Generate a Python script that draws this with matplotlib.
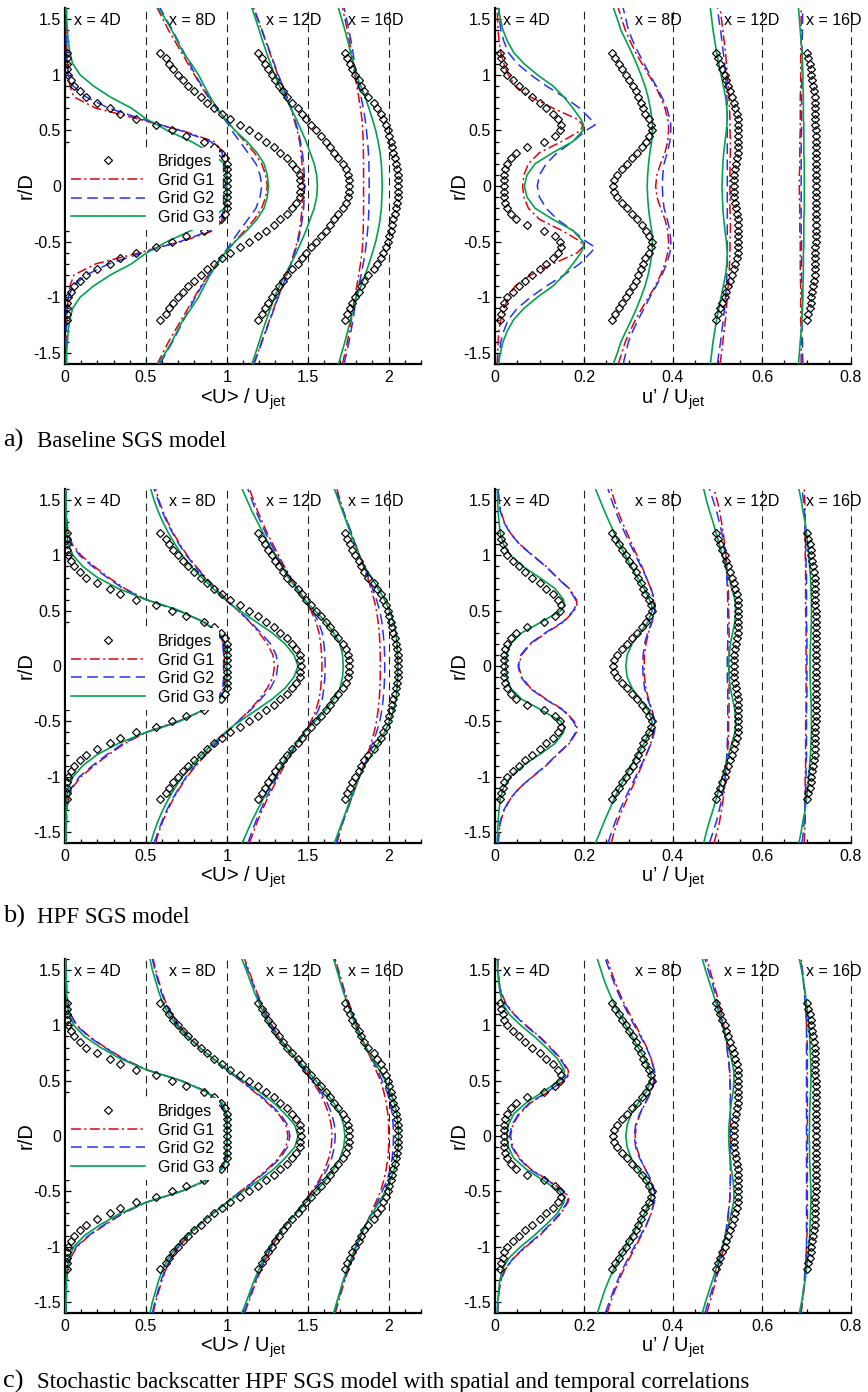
import numpy as np
import matplotlib
matplotlib.use("Agg")
import matplotlib.pyplot as plt
from matplotlib.ticker import MultipleLocator, FixedLocator, FixedFormatter

# ---------------- data ----------------
# radial stations (r/D >= 0) at which the LES profiles were read; profiles are mirrored about r = 0
R_SIM = [0, 0.1, 0.2, 0.3, 0.4, 0.5, 0.55, 0.6, 0.7, 0.8, 0.9, 1.0, 1.1, 1.2, 1.3, 1.4, 1.5, 1.6]
# radial stations of the Bridges measurements
R_EXP = [0, 0.05, 0.1, 0.15, 0.2, 0.25, 0.3, 0.35, 0.4, 0.45, 0.5, 0.55, 0.6,
         0.65, 0.7, 0.75, 0.8, 0.85, 0.9, 0.95, 1.0, 1.05, 1.1, 1.15, 1.2]

STATION_LABELS = ["x = 4D", "x = 8D", "x = 12D", "x = 16D"]
GRID_LABELS = ["Grid G1", "Grid G2", "Grid G3"]
EXP_LABEL = "Bridges"
CAPTION_LETTERS = ["a)", "b)", "c)"]
CAPTION_TEXTS = ["Baseline SGS model", "HPF SGS model",
                 "Stochastic backscatter HPF SGS model with spatial and temporal correlations"]

MEAN_XTICKS = [0, 0.5, 1, 1.5, 2]
MEAN_XTICKLABELS = ["0", "0.5", "1", "1.5", "2"]
RMS_XTICKS = [0, 0.2, 0.4, 0.6, 0.8]
RMS_XTICKLABELS = ["0", "0.2", "0.4", "0.6", "0.8"]
YTICKS = [-1.5, -1, -0.5, 0, 0.5, 1, 1.5]
YTICKLABELS = ["-1.5", "-1", "-0.5", "0", "0.5", "1", "1.5"]
MEAN_REFLINES = [0.5, 1.0, 1.5, 2.0]
RMS_REFLINES = [0.2, 0.4, 0.6, 0.8]

# Bridges measurements (as plotted, stations shifted along the axis)
EXP_MEAN = [
    [1.0, 1.0, 1.0, 1.0, 1.0, 0.99, 0.965, 0.92, 0.86, 0.75, 0.66, 0.56, 0.44, 0.34, 0.28, 0.2, 0.13, 0.09, 0.055, 0.035, 0.02, 0.015, 0.013, 0.01, 0.01],
    [1.46, 1.455, 1.45, 1.43, 1.405, 1.37, 1.33, 1.29, 1.24, 1.19, 1.135, 1.08, 1.02, 0.97, 0.92, 0.88, 0.84, 0.80, 0.76, 0.73, 0.70, 0.67, 0.645, 0.625, 0.59],
    [1.755, 1.753, 1.748, 1.735, 1.715, 1.69, 1.665, 1.64, 1.61, 1.58, 1.55, 1.52, 1.49, 1.465, 1.44, 1.40, 1.37, 1.345, 1.32, 1.30, 1.28, 1.255, 1.235, 1.215, 1.19],
    [2.06, 2.06, 2.055, 2.05, 2.045, 2.04, 2.03, 2.02, 2.015, 2.005, 1.995, 1.985, 1.965, 1.95, 1.93, 1.91, 1.875, 1.85, 1.83, 1.815, 1.79, 1.775, 1.76, 1.745, 1.73],
]
EXP_RMS = [
    [0.02, 0.02, 0.02, 0.023, 0.028, 0.035, 0.048, 0.072, 0.11, 0.134, 0.145, 0.148, 0.142, 0.13, 0.115, 0.102, 0.083, 0.068, 0.053, 0.04, 0.027, 0.02, 0.017, 0.014, 0.011],
    [0.265, 0.267, 0.275, 0.285, 0.297, 0.307, 0.318, 0.33, 0.34, 0.347, 0.352, 0.35, 0.345, 0.338, 0.333, 0.328, 0.322, 0.317, 0.31, 0.302, 0.295, 0.286, 0.278, 0.27, 0.263],
    [0.537, 0.537, 0.538, 0.54, 0.541, 0.543, 0.545, 0.546, 0.547, 0.547, 0.547, 0.546, 0.545, 0.543, 0.54, 0.537, 0.533, 0.528, 0.524, 0.52, 0.516, 0.511, 0.506, 0.501, 0.497],
    [0.722, 0.722, 0.722, 0.722, 0.722, 0.722, 0.721, 0.721, 0.721, 0.721, 0.721, 0.72, 0.72, 0.72, 0.72, 0.72, 0.719, 0.717, 0.715, 0.713, 0.711, 0.709, 0.707, 0.704, 0.701],
]

# ---- a) baseline SGS model ----
A_MEAN_G1 = [
    [0.995, 0.995, 0.99, 0.98, 0.92, 0.72, 0.58, 0.46, 0.19, 0.055, 0.03, 0.02, 0.015, 0.012, 0.01, 0.008, 0.007, 0.006],
    [1.25, 1.24, 1.215, 1.17, 1.11, 1.05, 1.02, 0.99, 0.935, 0.885, 0.84, 0.80, 0.76, 0.72, 0.68, 0.64, 0.605, 0.57],
    [1.47, 1.468, 1.465, 1.458, 1.45, 1.435, 1.425, 1.415, 1.395, 1.37, 1.345, 1.315, 1.29, 1.265, 1.24, 1.215, 1.19, 1.165],
    [1.845, 1.845, 1.845, 1.844, 1.843, 1.84, 1.838, 1.835, 1.826, 1.815, 1.803, 1.79, 1.78, 1.77, 1.758, 1.745, 1.73, 1.715],
]
A_MEAN_G2 = [
    [0.98, 0.98, 0.98, 0.97, 0.90, 0.71, 0.59, 0.48, 0.27, 0.13, 0.05, 0.02, 0.012, 0.01, 0.008, 0.007, 0.006, 0.005],
    [1.216, 1.205, 1.18, 1.13, 1.08, 1.03, 1.01, 0.985, 0.935, 0.89, 0.845, 0.805, 0.77, 0.735, 0.70, 0.665, 0.625, 0.588],
    [1.48, 1.478, 1.475, 1.466, 1.455, 1.44, 1.43, 1.42, 1.398, 1.372, 1.345, 1.318, 1.293, 1.268, 1.243, 1.218, 1.193, 1.168],
    [1.88, 1.879, 1.878, 1.875, 1.87, 1.863, 1.859, 1.855, 1.843, 1.83, 1.815, 1.80, 1.79, 1.78, 1.768, 1.755, 1.74, 1.725],
]
A_MEAN_G3 = [
    [1.0, 1.0, 0.985, 0.90, 0.78, 0.63, 0.57, 0.505, 0.41, 0.28, 0.175, 0.093, 0.047, 0.03, 0.02, 0.015, 0.01, 0.01],
    [1.258, 1.25, 1.23, 1.186, 1.124, 1.05, 1.02, 0.99, 0.94, 0.897, 0.86, 0.825, 0.78, 0.73, 0.695, 0.66, 0.62, 0.577],
    [1.56, 1.555, 1.54, 1.515, 1.49, 1.46, 1.445, 1.43, 1.395, 1.36, 1.325, 1.295, 1.27, 1.245, 1.222, 1.20, 1.178, 1.155],
    [1.96, 1.958, 1.955, 1.947, 1.935, 1.92, 1.91, 1.90, 1.878, 1.855, 1.828, 1.80, 1.783, 1.765, 1.748, 1.73, 1.71, 1.69],
]
A_RMS_G1 = [
    [0.062, 0.065, 0.075, 0.10, 0.15, 0.193, 0.197, 0.185, 0.13, 0.08, 0.045, 0.03, 0.02, 0.013, 0.009, 0.007, 0.006, 0.005],
    [0.361, 0.364, 0.372, 0.382, 0.388, 0.39, 0.39, 0.388, 0.382, 0.372, 0.36, 0.345, 0.33, 0.316, 0.304, 0.293, 0.285, 0.277],
    [0.528, 0.528, 0.528, 0.529, 0.529, 0.528, 0.528, 0.528, 0.527, 0.526, 0.524, 0.522, 0.52, 0.518, 0.515, 0.512, 0.509, 0.506],
    [0.684, 0.684, 0.685, 0.685, 0.685, 0.686, 0.686, 0.686, 0.686, 0.686, 0.687, 0.687, 0.687, 0.687, 0.688, 0.688, 0.688, 0.688],
]
A_RMS_G2 = [
    [0.095, 0.10, 0.115, 0.14, 0.175, 0.205, 0.225, 0.215, 0.19, 0.155, 0.115, 0.08, 0.05, 0.03, 0.02, 0.013, 0.01, 0.008],
    [0.376, 0.377, 0.38, 0.387, 0.393, 0.395, 0.395, 0.393, 0.386, 0.375, 0.362, 0.348, 0.335, 0.322, 0.31, 0.30, 0.294, 0.288],
    [0.522, 0.522, 0.522, 0.522, 0.522, 0.522, 0.522, 0.522, 0.522, 0.521, 0.52, 0.518, 0.516, 0.513, 0.51, 0.507, 0.503, 0.50],
    [0.688, 0.688, 0.688, 0.688, 0.688, 0.689, 0.689, 0.689, 0.689, 0.689, 0.689, 0.69, 0.69, 0.69, 0.69, 0.691, 0.691, 0.692],
]
A_RMS_G3 = [
    [0.066, 0.072, 0.09, 0.13, 0.175, 0.198, 0.199, 0.193, 0.175, 0.155, 0.13, 0.095, 0.065, 0.042, 0.028, 0.018, 0.012, 0.008],
    [0.342, 0.343, 0.345, 0.348, 0.352, 0.354, 0.354, 0.353, 0.349, 0.344, 0.337, 0.328, 0.318, 0.307, 0.295, 0.283, 0.275, 0.266],
    [0.51, 0.511, 0.512, 0.514, 0.517, 0.52, 0.521, 0.522, 0.521, 0.518, 0.513, 0.508, 0.503, 0.498, 0.494, 0.49, 0.487, 0.484],
    [0.695, 0.695, 0.695, 0.694, 0.694, 0.694, 0.694, 0.693, 0.693, 0.693, 0.692, 0.692, 0.691, 0.69, 0.688, 0.686, 0.684, 0.682],
]

# ---- b) HPF SGS model ----
B_MEAN_G1 = [
    [0.985, 0.985, 0.98, 0.95, 0.86, 0.70, 0.60, 0.50, 0.37, 0.27, 0.18, 0.10, 0.045, 0.02, 0.012, 0.009, 0.007, 0.006],
    [1.295, 1.285, 1.25, 1.20, 1.14, 1.07, 1.035, 1.0, 0.935, 0.87, 0.81, 0.755, 0.71, 0.67, 0.635, 0.605, 0.58, 0.56],
    [1.588, 1.586, 1.58, 1.57, 1.55, 1.52, 1.50, 1.48, 1.44, 1.395, 1.355, 1.32, 1.285, 1.25, 1.22, 1.19, 1.165, 1.14],
    [1.948, 1.948, 1.946, 1.942, 1.935, 1.925, 1.918, 1.91, 1.89, 1.87, 1.845, 1.82, 1.795, 1.77, 1.745, 1.72, 1.70, 1.68],
]
B_MEAN_G2 = [
    [0.98, 0.98, 0.975, 0.945, 0.855, 0.70, 0.60, 0.50, 0.36, 0.26, 0.17, 0.09, 0.04, 0.018, 0.011, 0.008, 0.007, 0.006],
    [1.315, 1.305, 1.27, 1.21, 1.145, 1.07, 1.035, 0.995, 0.93, 0.865, 0.805, 0.75, 0.705, 0.665, 0.63, 0.60, 0.575, 0.55],
    [1.608, 1.606, 1.60, 1.59, 1.565, 1.53, 1.505, 1.48, 1.435, 1.39, 1.345, 1.31, 1.275, 1.24, 1.21, 1.18, 1.155, 1.13],
    [1.976, 1.975, 1.972, 1.966, 1.958, 1.945, 1.935, 1.925, 1.90, 1.875, 1.85, 1.82, 1.795, 1.77, 1.745, 1.72, 1.695, 1.675],
]
B_MEAN_G3 = [
    [1.0, 1.0, 0.99, 0.955, 0.85, 0.71, 0.61, 0.50, 0.33, 0.20, 0.11, 0.05, 0.02, 0.01, 0.008, 0.007, 0.006, 0.005],
    [1.44, 1.415, 1.36, 1.28, 1.18, 1.08, 1.03, 0.99, 0.915, 0.845, 0.78, 0.725, 0.68, 0.64, 0.605, 0.575, 0.55, 0.53],
    [1.72, 1.715, 1.70, 1.66, 1.61, 1.545, 1.51, 1.48, 1.43, 1.38, 1.34, 1.30, 1.26, 1.225, 1.19, 1.155, 1.125, 1.095],
    [2.056, 2.055, 2.052, 2.045, 2.03, 2.005, 1.99, 1.975, 1.935, 1.895, 1.85, 1.82, 1.79, 1.765, 1.74, 1.715, 1.69, 1.665],
]
B_RMS_G1 = [
    [0.053, 0.06, 0.08, 0.115, 0.155, 0.178, 0.184, 0.183, 0.167, 0.14, 0.115, 0.085, 0.056, 0.035, 0.021, 0.013, 0.009, 0.007],
    [0.335, 0.336, 0.339, 0.345, 0.353, 0.358, 0.358, 0.356, 0.35, 0.34, 0.33, 0.319, 0.308, 0.297, 0.286, 0.276, 0.268, 0.261],
    [0.526, 0.526, 0.526, 0.526, 0.526, 0.525, 0.525, 0.525, 0.524, 0.522, 0.521, 0.519, 0.516, 0.513, 0.509, 0.505, 0.499, 0.492],
    [0.699, 0.699, 0.699, 0.699, 0.699, 0.698, 0.698, 0.698, 0.698, 0.698, 0.698, 0.697, 0.697, 0.697, 0.697, 0.697, 0.696, 0.695],
]
B_RMS_G2 = [
    [0.052, 0.058, 0.078, 0.113, 0.153, 0.176, 0.182, 0.181, 0.166, 0.139, 0.114, 0.084, 0.055, 0.034, 0.02, 0.012, 0.009, 0.007],
    [0.332, 0.333, 0.336, 0.343, 0.353, 0.359, 0.36, 0.358, 0.351, 0.34, 0.328, 0.316, 0.304, 0.292, 0.281, 0.271, 0.262, 0.254],
    [0.522, 0.522, 0.523, 0.523, 0.523, 0.523, 0.523, 0.523, 0.522, 0.521, 0.519, 0.517, 0.514, 0.51, 0.504, 0.498, 0.49, 0.482],
    [0.701, 0.701, 0.701, 0.701, 0.70, 0.70, 0.70, 0.70, 0.70, 0.70, 0.699, 0.699, 0.698, 0.697, 0.696, 0.695, 0.693, 0.69],
]
B_RMS_G3 = [
    [0.024, 0.026, 0.035, 0.06, 0.105, 0.148, 0.156, 0.154, 0.135, 0.10, 0.063, 0.035, 0.019, 0.012, 0.009, 0.007, 0.006, 0.005],
    [0.294, 0.297, 0.308, 0.326, 0.344, 0.353, 0.352, 0.347, 0.335, 0.32, 0.306, 0.293, 0.28, 0.268, 0.257, 0.246, 0.236, 0.226],
    [0.525, 0.526, 0.529, 0.534, 0.539, 0.541, 0.54, 0.539, 0.532, 0.525, 0.518, 0.511, 0.504, 0.497, 0.49, 0.482, 0.475, 0.469],
    [0.708, 0.708, 0.709, 0.71, 0.711, 0.711, 0.711, 0.711, 0.71, 0.709, 0.707, 0.705, 0.703, 0.70, 0.697, 0.692, 0.688, 0.683],
]

# ---- c) stochastic backscatter HPF SGS model ----
C_MEAN_G1 = [
    [1.0, 1.0, 0.995, 0.965, 0.88, 0.72, 0.61, 0.50, 0.36, 0.25, 0.15, 0.075, 0.035, 0.017, 0.011, 0.008, 0.007, 0.006],
    [1.378, 1.365, 1.32, 1.25, 1.17, 1.085, 1.04, 1.0, 0.915, 0.835, 0.765, 0.705, 0.66, 0.625, 0.60, 0.58, 0.56, 0.545],
    [1.65, 1.645, 1.63, 1.605, 1.57, 1.525, 1.50, 1.475, 1.425, 1.37, 1.32, 1.28, 1.245, 1.215, 1.185, 1.16, 1.135, 1.11],
    [2.0, 2.0, 1.995, 1.985, 1.97, 1.95, 1.935, 1.92, 1.89, 1.86, 1.83, 1.805, 1.78, 1.755, 1.73, 1.71, 1.69, 1.67],
]
C_MEAN_G2 = [
    [1.0, 1.0, 0.99, 0.96, 0.875, 0.715, 0.61, 0.50, 0.355, 0.245, 0.145, 0.07, 0.033, 0.016, 0.011, 0.008, 0.007, 0.006],
    [1.39, 1.375, 1.33, 1.26, 1.177, 1.088, 1.04, 1.0, 0.913, 0.832, 0.76, 0.70, 0.655, 0.62, 0.595, 0.575, 0.555, 0.54],
    [1.67, 1.665, 1.648, 1.62, 1.58, 1.53, 1.505, 1.48, 1.425, 1.368, 1.315, 1.275, 1.24, 1.21, 1.18, 1.155, 1.13, 1.105],
    [2.03, 2.028, 2.022, 2.01, 1.99, 1.96, 1.945, 1.93, 1.895, 1.86, 1.828, 1.80, 1.775, 1.75, 1.725, 1.705, 1.685, 1.665],
]
C_MEAN_G3 = [
    [1.0, 1.0, 1.0, 0.97, 0.87, 0.72, 0.61, 0.50, 0.34, 0.22, 0.12, 0.055, 0.025, 0.012, 0.009, 0.007, 0.006, 0.005],
    [1.44, 1.42, 1.36, 1.29, 1.20, 1.10, 1.05, 1.005, 0.915, 0.83, 0.755, 0.69, 0.64, 0.605, 0.58, 0.56, 0.54, 0.525],
    [1.73, 1.722, 1.70, 1.66, 1.61, 1.55, 1.52, 1.49, 1.43, 1.365, 1.31, 1.265, 1.23, 1.20, 1.17, 1.145, 1.12, 1.093],
    [2.062, 2.058, 2.05, 2.035, 2.01, 1.98, 1.96, 1.94, 1.90, 1.86, 1.825, 1.795, 1.77, 1.745, 1.72, 1.70, 1.68, 1.66],
]
C_RMS_G1 = [
    [0.035, 0.04, 0.055, 0.08, 0.12, 0.155, 0.166, 0.164, 0.148, 0.125, 0.10, 0.07, 0.043, 0.024, 0.014, 0.009, 0.007, 0.006],
    [0.315, 0.318, 0.326, 0.338, 0.35, 0.357, 0.358, 0.357, 0.351, 0.341, 0.329, 0.316, 0.303, 0.29, 0.279, 0.269, 0.26, 0.252],
    [0.529, 0.529, 0.529, 0.529, 0.529, 0.528, 0.528, 0.527, 0.525, 0.522, 0.518, 0.514, 0.509, 0.503, 0.497, 0.49, 0.483, 0.476],
    [0.702, 0.702, 0.702, 0.702, 0.702, 0.702, 0.702, 0.702, 0.702, 0.702, 0.701, 0.70, 0.699, 0.698, 0.696, 0.694, 0.691, 0.688],
]
C_RMS_G2 = [
    [0.033, 0.038, 0.053, 0.078, 0.118, 0.153, 0.164, 0.162, 0.146, 0.123, 0.098, 0.068, 0.042, 0.023, 0.013, 0.009, 0.007, 0.006],
    [0.313, 0.316, 0.325, 0.338, 0.351, 0.359, 0.36, 0.358, 0.351, 0.34, 0.327, 0.313, 0.30, 0.287, 0.276, 0.266, 0.257, 0.248],
    [0.528, 0.528, 0.529, 0.529, 0.529, 0.528, 0.528, 0.527, 0.524, 0.521, 0.517, 0.512, 0.506, 0.50, 0.494, 0.487, 0.479, 0.472],
    [0.70, 0.70, 0.70, 0.70, 0.70, 0.70, 0.70, 0.70, 0.70, 0.70, 0.70, 0.70, 0.699, 0.697, 0.695, 0.693, 0.69, 0.687],
]
C_RMS_G3 = [
    [0.027, 0.03, 0.042, 0.07, 0.108, 0.145, 0.156, 0.155, 0.14, 0.115, 0.088, 0.058, 0.032, 0.017, 0.011, 0.008, 0.006, 0.005],
    [0.294, 0.297, 0.306, 0.322, 0.34, 0.35, 0.351, 0.347, 0.336, 0.322, 0.308, 0.294, 0.28, 0.267, 0.256, 0.246, 0.238, 0.23],
    [0.525, 0.526, 0.528, 0.531, 0.535, 0.537, 0.537, 0.536, 0.531, 0.525, 0.518, 0.511, 0.504, 0.497, 0.489, 0.481, 0.473, 0.466],
    [0.706, 0.707, 0.707, 0.708, 0.709, 0.71, 0.71, 0.71, 0.709, 0.708, 0.707, 0.705, 0.703, 0.70, 0.697, 0.693, 0.689, 0.684],
]

# ---------------- styling ----------------
plt.rcParams["font.family"] = ["Liberation Sans", "DejaVu Sans"]
plt.rcParams["axes.unicode_minus"] = False
plt.rcParams["mathtext.fontset"] = "custom"
plt.rcParams["mathtext.rm"] = "Liberation Sans"
plt.rcParams["mathtext.it"] = "Liberation Sans"

RED = "#E3000F"
BLUE = "#2233FF"
GREEN = "#00A24E"
GRID_STYLES = [
    dict(color=RED, ls=(0, (6.5, 2.2, 1.4, 2.2)), lw=1.1),
    dict(color=BLUE, ls=(0, (7, 3.6)), lw=1.1),
    dict(color=GREEN, ls="-", lw=1.2),
]
EXP_STYLE = dict(ls="none", marker="D", ms=3.6, mfc="none", mec="black", mew=0.85)

W, H = 868, 1392
fig = plt.figure(figsize=(W / 100, H / 100), dpi=100)


def add_ax(l, t, r, b):
    return fig.add_axes([l / W, 1 - b / H, (r - l) / W, (b - t) / H])


def mirror_r(r):
    r = np.asarray(r, float)
    return np.concatenate([-r[:0:-1], r])


def mirror_v(v):
    v = np.asarray(v, float)
    return np.concatenate([v[:0:-1], v])


def style_axis(ax, xmax, xticks, xticklabels, xminor, xlabel):
    ax.set_xlim(0, xmax)
    ax.set_ylim(-1.6, 1.6)
    for s in ("top", "right"):
        ax.spines[s].set_visible(False)
    for s in ("left", "bottom"):
        ax.spines[s].set_linewidth(1.6)
    ax.xaxis.set_major_locator(FixedLocator(xticks))
    ax.xaxis.set_major_formatter(FixedFormatter(xticklabels))
    ax.xaxis.set_minor_locator(MultipleLocator(xminor))
    ax.yaxis.set_major_locator(FixedLocator(YTICKS))
    ax.yaxis.set_major_formatter(FixedFormatter(YTICKLABELS))
    ax.yaxis.set_minor_locator(MultipleLocator(0.1))
    ax.tick_params(which="both", direction="in", top=False, right=False,
                   labelsize=11.5, width=0.9)
    ax.tick_params(which="major", length=4.5)
    ax.tick_params(which="minor", length=2.6)
    ax.tick_params(axis="x", which="major", pad=4)
    ax.tick_params(axis="y", which="major", pad=3)
    ax.set_xlabel(xlabel, fontsize=14.5)
    ax.xaxis.set_label_coords(0.5, -0.062)
    ax.set_ylabel("r/D", fontsize=14.5)


panels = [
    (8, 364, A_MEAN_G1, A_MEAN_G2, A_MEAN_G3, A_RMS_G1, A_RMS_G2, A_RMS_G3),
    (489, 843, B_MEAN_G1, B_MEAN_G2, B_MEAN_G3, B_RMS_G1, B_RMS_G2, B_RMS_G3),
    (959, 1313, C_MEAN_G1, C_MEAN_G2, C_MEAN_G3, C_RMS_G1, C_RMS_G2, C_RMS_G3),
]
caption_baselines = [447, 923, 1388]

r_sim = mirror_r(R_SIM)
r_exp = mirror_r(R_EXP)

mean_label_x = [0.056, 0.64, 1.241, 1.748]
rms_label_x = [0.018, 0.314, 0.515, 0.70]

for p, (top, bot, m1, m2, m3, u1, u2, u3) in enumerate(panels):
    # ---- mean velocity ----
    axL = add_ax(65, top, 421, bot)
    for xv in MEAN_REFLINES:
        axL.axvline(xv, color="#222222", lw=0.8, ls=(0, (7, 4.5)), zorder=1)
    hexp, = axL.plot([], [], label=EXP_LABEL, **EXP_STYLE)
    for k in range(4):
        axL.plot(mirror_v(EXP_MEAN[k]), r_exp, zorder=4, **EXP_STYLE)
    grid_handles = []
    for g, data in enumerate((m1, m2, m3)):
        for k in range(4):
            ln, = axL.plot(mirror_v(data[k]), r_sim, zorder=3, **GRID_STYLES[g])
        ln.set_label(GRID_LABELS[g])
        grid_handles.append(ln)
    for k in range(4):
        axL.text(mean_label_x[k], 1.485, STATION_LABELS[k], fontsize=11.5,
                 ha="left", va="center", zorder=6)
    style_axis(axL, 2.2, MEAN_XTICKS, MEAN_XTICKLABELS, 0.1,
               r"<U> / U$_{\mathregular{jet}}$")
    axL.yaxis.set_label_coords(-0.082, 0.5)
    leg = axL.legend(handles=[hexp] + grid_handles, loc="center left",
                     bbox_to_anchor=(0.005, -0.03), bbox_transform=axL.transData,
                     fontsize=11.5, numpoints=1, handlelength=4.6, handletextpad=0.8,
                     labelspacing=0.22, borderpad=0.35, borderaxespad=0.0,
                     frameon=True, fancybox=False, framealpha=1.0)
    leg.get_frame().set_facecolor("white")
    leg.get_frame().set_edgecolor("none")
    leg.set_zorder(5)

    # ---- rms velocity ----
    axR = add_ax(495, top, 851, bot)
    for xv in RMS_REFLINES:
        axR.axvline(xv, color="#222222", lw=0.8, ls=(0, (7, 4.5)), zorder=1,
                    clip_on=False)
    for k in range(4):
        axR.plot(mirror_v(EXP_RMS[k]), r_exp, zorder=4, **EXP_STYLE)
    for g, data in enumerate((u1, u2, u3)):
        for k in range(4):
            axR.plot(mirror_v(data[k]), r_sim, zorder=3, **GRID_STYLES[g])
    for k in range(4):
        axR.text(rms_label_x[k], 1.485, STATION_LABELS[k], fontsize=11.5,
                 ha="left", va="center", zorder=6)
    style_axis(axR, 0.8, RMS_XTICKS, RMS_XTICKLABELS, 0.05,
               r"u’ / U$_{\mathregular{jet}}$")
    axR.yaxis.set_label_coords(-0.073, 0.5)

    # ---- caption ----
    yb = 1 - caption_baselines[p] / H
    fig.text(3 / W, yb, CAPTION_LETTERS[p], fontsize=19,
             family=["Liberation Serif", "DejaVu Serif"], va="baseline", ha="left")
    fig.text(37 / W, yb, CAPTION_TEXTS[p], fontsize=16.5,
             family=["Liberation Serif", "DejaVu Serif"], va="baseline", ha="left")

fig.savefig("out.png", dpi=100)
